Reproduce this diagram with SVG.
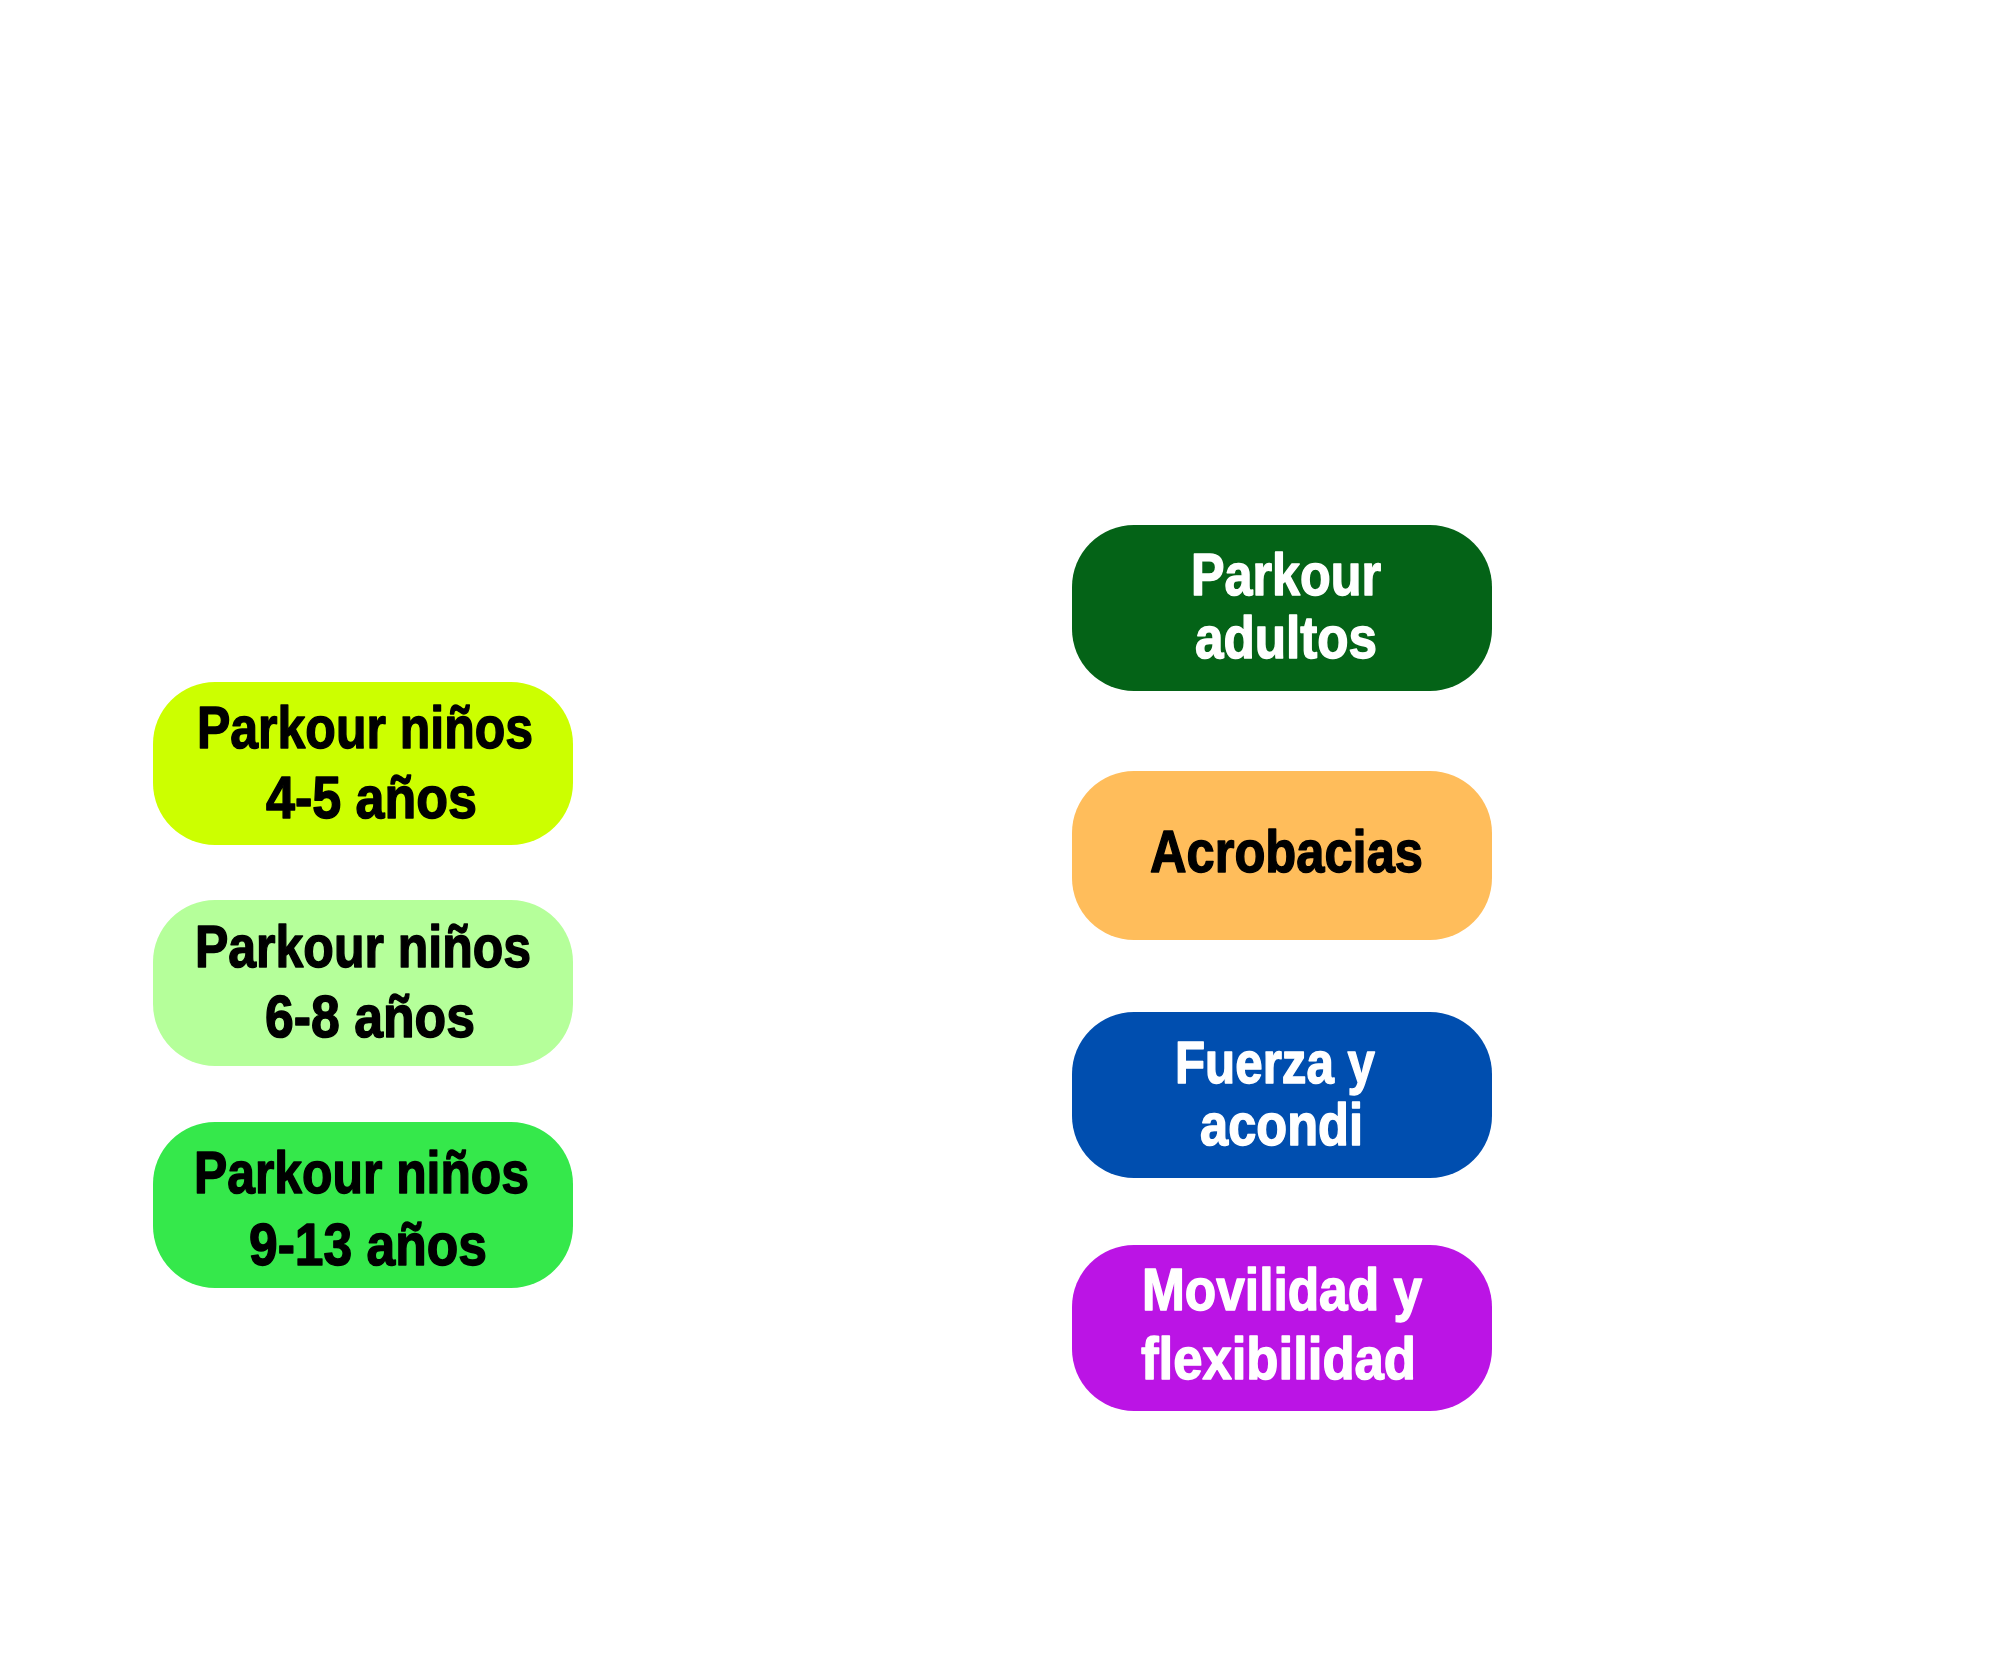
<svg xmlns="http://www.w3.org/2000/svg" width="2000" height="1667" viewBox="0 0 2000 1667">
<style>
.lbl{font-family:"Liberation Sans Narrow","Liberation Sans",Arial,sans-serif;font-weight:bold;font-size:60px;stroke-width:1.5px;stroke-linejoin:round}
.dk{fill:#000;stroke:#000}
.wt{fill:#fff;stroke:#fff}
</style>
<rect width="2000" height="1667" fill="#fff"/>
<g id="connectors"/>
<g id="n-ninos-4-5">
<rect x="153" y="682" width="420" height="163" rx="62" ry="62" fill="#CCFF00"/>
<text class="lbl dk" x="197" y="748" textLength="336" lengthAdjust="spacingAndGlyphs">Parkour niños</text>
<text class="lbl dk" x="266" y="818" textLength="211" lengthAdjust="spacingAndGlyphs">4-5 años</text>
</g>
<g id="n-ninos-6-8">
<rect x="153" y="900" width="420" height="166" rx="62" ry="62" fill="#B5FF9A"/>
<text class="lbl dk" x="195" y="967" textLength="336" lengthAdjust="spacingAndGlyphs">Parkour niños</text>
<text class="lbl dk" x="265" y="1037" textLength="210" lengthAdjust="spacingAndGlyphs">6-8 años</text>
</g>
<g id="n-ninos-9-13">
<rect x="153" y="1122" width="420" height="166" rx="62" ry="62" fill="#35E84B"/>
<text class="lbl dk" x="194" y="1193" textLength="335" lengthAdjust="spacingAndGlyphs">Parkour niños</text>
<text class="lbl dk" x="249" y="1265" textLength="238" lengthAdjust="spacingAndGlyphs">9-13 años</text>
</g>
<g id="n-adultos">
<rect x="1072" y="525" width="420" height="166" rx="62" ry="62" fill="#046317"/>
<text class="lbl wt" x="1191" y="595" textLength="190" lengthAdjust="spacingAndGlyphs">Parkour</text>
<text class="lbl wt" x="1195" y="658" textLength="182" lengthAdjust="spacingAndGlyphs">adultos</text>
</g>
<g id="n-acrobacias">
<rect x="1072" y="771" width="420" height="169" rx="62" ry="62" fill="#FFBD5B"/>
<text class="lbl dk" x="1150" y="872" textLength="273" lengthAdjust="spacingAndGlyphs">Acrobacias</text>
</g>
<g id="n-fuerza">
<rect x="1072" y="1012" width="420" height="166" rx="62" ry="62" fill="#004EAF"/>
<text class="lbl wt" x="1175" y="1083" textLength="200" lengthAdjust="spacingAndGlyphs">Fuerza y</text>
<text class="lbl wt" x="1200" y="1145" textLength="163" lengthAdjust="spacingAndGlyphs">acondi</text>
</g>
<g id="n-movilidad">
<rect x="1072" y="1245" width="420" height="166" rx="62" ry="62" fill="#BB14E5"/>
<text class="lbl wt" x="1142" y="1310" textLength="280" lengthAdjust="spacingAndGlyphs">Movilidad y</text>
<text class="lbl wt" x="1141" y="1379" textLength="275" lengthAdjust="spacingAndGlyphs">flexibilidad</text>
</g>
</svg>
